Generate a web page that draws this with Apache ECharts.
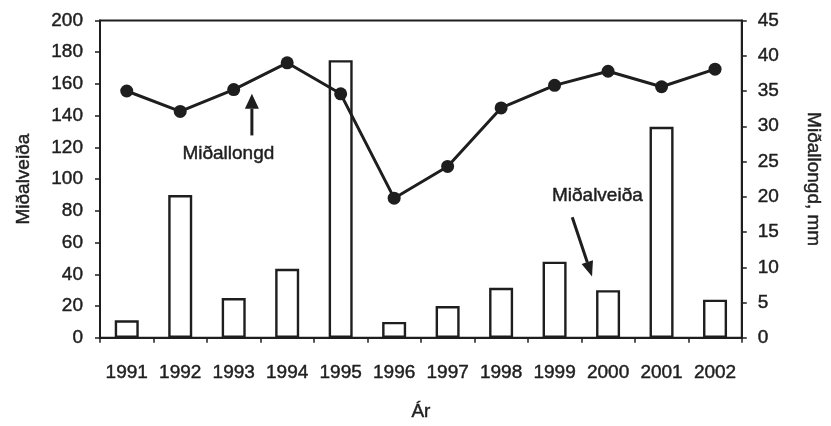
<!DOCTYPE html>
<html>
<head>
<meta charset="utf-8">
<script src="https://cdn.jsdelivr.net/npm/echarts@6/dist/echarts.min.js"></script>
<style>
  html, body { margin: 0; padding: 0; background: #fff; }
  #chart { width: 831px; height: 426px; }
</style>
</head>
<body>
<div id="chart"></div>
<script>
// Years on the category axis
const years = ['1991', '1992', '1993', '1994', '1995', '1996', '1997', '1998', '1999', '2000', '2001', '2002'];
// Mean catch per year (bars, left axis)
const midalveida = [11, 90, 25, 43.5, 175, 10, 20, 31.5, 48, 30, 133, 24];
// Mean length in mm per year (line, right axis)
const midallongd = [35.0, 32.1, 35.2, 39.0, 34.6, 19.8, 24.3, 32.6, 35.8, 37.8, 35.6, 38.1];
// Axis tick values
const leftTicks = [0, 20, 40, 60, 80, 100, 120, 140, 160, 180, 200];
const rightTicks = [0, 5, 10, 15, 20, 25, 30, 35, 40, 45];

const ink = '#1e1e1e';
const FONT = 'Liberation Sans, Arial, sans-serif';
const FS = 19;
// slightly heavier strokes on the text
const textBase = { color: ink, fontFamily: FONT, fontSize: FS, textBorderColor: ink, textBorderWidth: 0.45 };

const chart = echarts.init(document.getElementById('chart'), null, { renderer: 'canvas' });

const axisCommon = {
  axisLine: { show: true, lineStyle: { color: ink, width: 2 } },
  axisTick: { show: true, inside: false, length: 5, lineStyle: { color: ink, width: 1.5 } },
  splitLine: { show: false },
  nameTextStyle: { ...textBase }
};

chart.setOption({
  animation: false,
  backgroundColor: '#fff',
  grid: {
    left: 100, right: 75, top: 20.5, bottom: 84.5,
    show: true, borderColor: ink, borderWidth: 2, backgroundColor: 'transparent'
  },
  xAxis: {
    type: 'category',
    data: years,
    name: 'Ár',
    nameLocation: 'middle',
    nameGap: 64,
    ...axisCommon,
    axisTick: { show: true, length: 5, alignWithLabel: false, lineStyle: { color: ink, width: 1.5 } },
    axisLabel: { ...textBase, margin: 25, interval: 0 }
  },
  yAxis: [
    {
      type: 'value',
      min: leftTicks[0],
      max: leftTicks[leftTicks.length - 1],
      interval: leftTicks[1] - leftTicks[0],
      name: 'Miðalveiða',
      nameLocation: 'middle',
      nameRotate: 90,
      nameGap: 67,
      ...axisCommon,
      axisLabel: { ...textBase, margin: 17 }
    },
    {
      type: 'value',
      position: 'right',
      min: rightTicks[0],
      max: rightTicks[rightTicks.length - 1],
      interval: rightTicks[1] - rightTicks[0],
      name: 'Miðallongd, mm',
      nameLocation: 'middle',
      nameRotate: -90,
      nameGap: 62,
      ...axisCommon,
      axisLabel: { ...textBase, margin: 16 }
    }
  ],
  series: [
    {
      name: 'Miðalveiða',
      type: 'bar',
      yAxisIndex: 0,
      data: midalveida,
      barWidth: 24,
      itemStyle: { color: '#fff', borderColor: ink, borderWidth: 2.4 },
      z: 2
    },
    {
      name: 'Miðallongd',
      type: 'line',
      yAxisIndex: 1,
      data: midallongd,
      symbol: 'circle',
      symbolSize: 13,
      lineStyle: { color: ink, width: 3 },
      itemStyle: { color: ink },
      z: 3
    }
  ]
});

// Annotation labels with arrows, placed in data space (category index, right-axis value)
function px(idx, val) {
  const a = chart.convertToPixel({ xAxisIndex: 0, yAxisIndex: 1 }, [0, val]);
  const b = chart.convertToPixel({ xAxisIndex: 0, yAxisIndex: 1 }, [1, val]);
  return [a[0] + (b[0] - a[0]) * idx, a[1]];
}

function arrow(from, to, head) {
  const dx = to[0] - from[0], dy = to[1] - from[1];
  const len = Math.sqrt(dx * dx + dy * dy);
  const ux = dx / len, uy = dy / len;
  const bx = to[0] - ux * head.len, by = to[1] - uy * head.len;
  const nx = -uy * head.half, ny = ux * head.half;
  return [
    { type: 'line', shape: { x1: from[0], y1: from[1], x2: bx, y2: by }, style: { stroke: ink, lineWidth: 3 }, z: 10 },
    { type: 'polygon', shape: { points: [[to[0], to[1]], [bx + nx, by + ny], [bx - nx, by - ny]] }, style: { fill: ink }, z: 10 }
  ];
}

const labelStyle = (t) => ({
  text: t, fill: ink, font: FS + 'px ' + FONT, align: 'center', verticalAlign: 'middle',
  stroke: ink, lineWidth: 0.45
});

const lenLabel = px(1.9, 26.1);
const catchLabel = px(8.8, 20.1);
const graphics = [
  { type: 'text', x: lenLabel[0], y: lenLabel[1], style: labelStyle('Miðallongd'), z: 10 },
  { type: 'text', x: catchLabel[0], y: catchLabel[1], style: labelStyle('Miðalveiða'), z: 10 }
]
  .concat(arrow(px(2.34, 28.7), px(2.34, 34.6), { len: 15, half: 7 }))
  .concat(arrow(px(8.33, 17.1), px(8.70, 8.7), { len: 15, half: 6 }));

chart.setOption({ graphic: graphics });
</script>
</body>
</html>
